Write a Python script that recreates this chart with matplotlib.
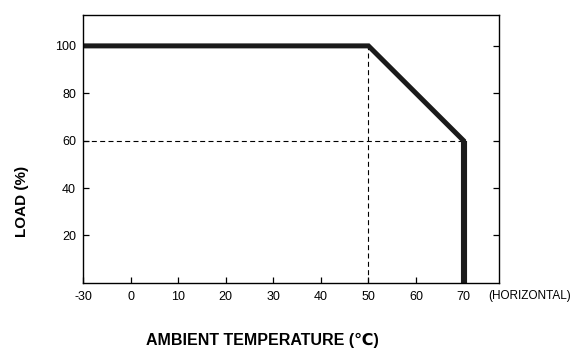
import numpy as np
import matplotlib.pyplot as plt

plt.rcParams['font.family'] = ['Liberation Sans', 'DejaVu Sans']

# derating curve: ambient temperature (C) vs load (%)
temp = [-30, 50, 70, 70]
load = [100, 100, 60, 0]

x_ticks = [-30, 0, 10, 20, 30, 40, 50, 60, 70]
y_ticks = [20, 40, 60, 80, 100]

# reference dashed guides
knee_temp = 50
end_temp = 70
end_load = 60


# the axis squeezes -30..0 into one 10-degree step
def fwd(x):
    x = np.asarray(x, dtype=float)
    return np.where(x < 0, x / 3.0, x)


def inv(x):
    x = np.asarray(x, dtype=float)
    return np.where(x < 0, x * 3.0, x)


fig = plt.figure(figsize=(5.76, 3.59), dpi=100)
ax = fig.add_axes([0.144, 0.212, 0.722, 0.746])
ax.set_xscale('function', functions=(fwd, inv))

ax.plot([-30, end_temp], [end_load, end_load], color='black', lw=0.8,
        dashes=(4.5, 3))
ax.plot([knee_temp, knee_temp], [0, 100], color='black', lw=0.8,
        dashes=(4.5, 3))
ax.plot(temp, load, color='#1a1a1a', lw=3.6, solid_joinstyle='miter',
        solid_capstyle='butt')
# the vertical cut-off is drawn a bit heavier in the original
ax.plot(temp[2:], load[2:], color='#1a1a1a', lw=4.4, solid_capstyle='butt')

ax.set_xlim(-30, 77.4)
ax.set_ylim(0, 113)
ax.set_xticks(x_ticks)
ax.set_xticklabels([str(t) for t in x_ticks])
ax.set_yticks(y_ticks)
ax.set_yticklabels([str(t) for t in y_ticks])
ax.tick_params(axis='both', direction='in', length=4.5, width=0.9,
               labelsize=9, colors='black')
ax.tick_params(axis='y', right=True, pad=5)
ax.tick_params(axis='x', pad=6)
for s in ax.spines.values():
    s.set_linewidth(1.0)

fig.text(0.038, 0.44, 'LOAD (%)', rotation=90, ha='center', va='center',
         fontsize=11, fontweight='bold',
         family=['Liberation Sans Narrow', 'Liberation Sans', 'DejaVu Sans'])
fig.text(0.455, 0.053, 'AMBIENT TEMPERATURE (℃)', ha='center', va='center',
         fontsize=11.5, fontweight='bold',
         family=['Liberation Sans Narrow', 'Liberation Sans', 'DejaVu Sans'])
fig.text(0.847, 0.176, '(HORIZONTAL)', ha='left', va='center', fontsize=8.5)

plt.savefig('out.png', dpi=100)
